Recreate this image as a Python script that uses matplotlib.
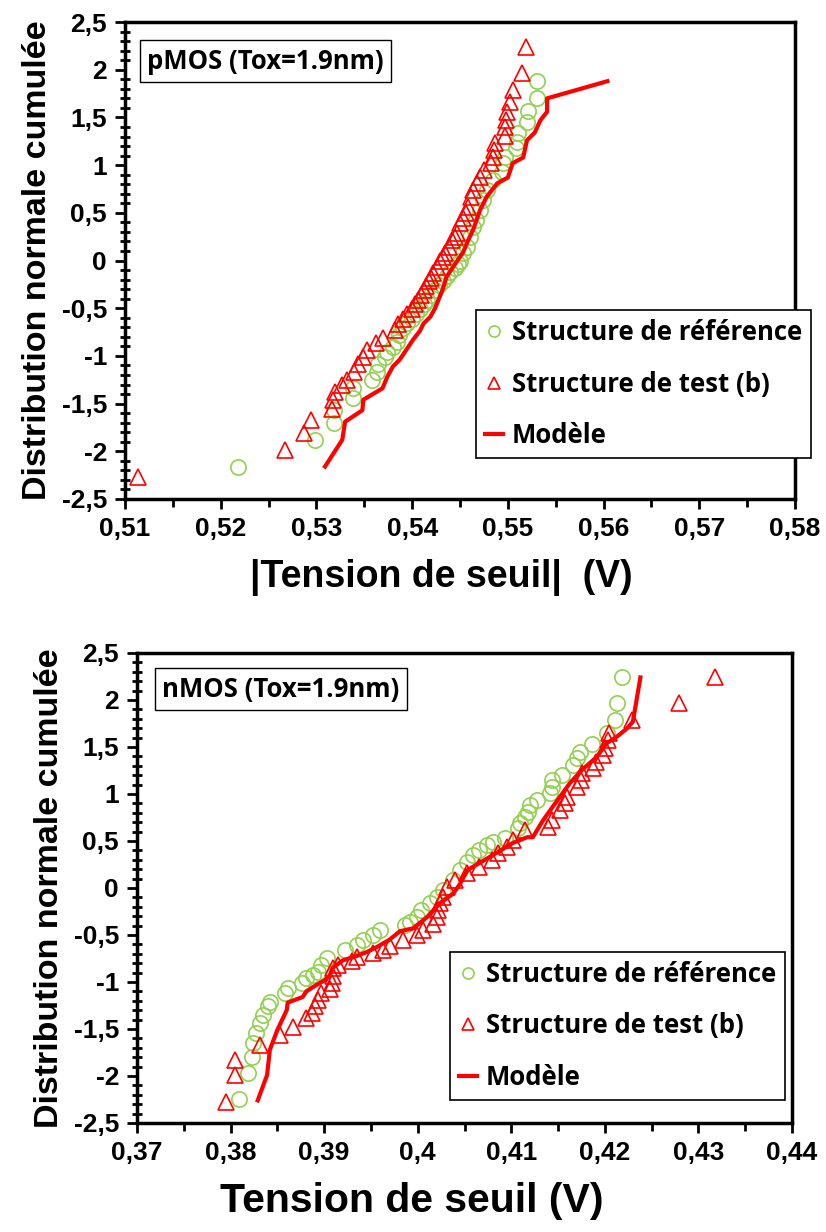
import matplotlib.pyplot as plt
from matplotlib.lines import Line2D
from matplotlib.ticker import MultipleLocator, FuncFormatter

# pMOS (top panel)
p_ref_x = [0.5218, 0.5299, 0.5318, 0.5318, 0.5338, 0.5338, 0.5358, 0.5363, 0.5364, 0.5372,
           0.5374, 0.5380, 0.5384, 0.5386, 0.5390, 0.5395, 0.5400, 0.5404, 0.5408, 0.5412,
           0.5416, 0.5420, 0.5424, 0.5428, 0.5432, 0.5436, 0.5440, 0.5445, 0.5448, 0.5450,
           0.5453, 0.5457, 0.5460, 0.5464, 0.5467, 0.5471, 0.5474, 0.5478, 0.5484, 0.5494,
           0.5495, 0.5497, 0.5508, 0.5510, 0.5511, 0.5520, 0.5521, 0.5530, 0.5530]
p_ref_y = [-2.17, -1.88, -1.70, -1.57, -1.44, -1.34, -1.25, -1.17, -1.09, -1.01,
           -0.96, -0.91, -0.85, -0.78, -0.71, -0.66, -0.61, -0.56, -0.51, -0.46,
           -0.41, -0.36, -0.31, -0.26, -0.21, -0.16, -0.12, -0.08, -0.04, 0.00,
           0.08, 0.14, 0.25, 0.35, 0.42, 0.53, 0.63, 0.74, 0.84, 0.93,
           1.02, 1.08, 1.18, 1.24, 1.34, 1.45, 1.57, 1.70, 1.88]

p_test_x = [0.5114, 0.5267, 0.5287, 0.5294, 0.5316, 0.5317, 0.5319, 0.5327, 0.5332, 0.5339,
            0.5343, 0.5349, 0.5353, 0.5362, 0.5370, 0.5382, 0.5385, 0.5390, 0.5395, 0.5400,
            0.5403, 0.5406, 0.5409, 0.5412, 0.5415, 0.5418, 0.5420, 0.5422, 0.5426, 0.5429,
            0.5432, 0.5434, 0.5438, 0.5442, 0.5445, 0.5447, 0.5450, 0.5453, 0.5456, 0.5458,
            0.5462, 0.5464, 0.5468, 0.5471, 0.5475, 0.5482, 0.5484, 0.5485, 0.5487, 0.5497,
            0.5497, 0.5498, 0.5499, 0.5502, 0.5505, 0.5515, 0.5519]
p_test_y = [-2.27, -1.99, -1.81, -1.67, -1.56, -1.46, -1.38, -1.31, -1.25, -1.17,
            -1.08, -1.01, -0.94, -0.87, -0.81, -0.73, -0.67, -0.61, -0.56, -0.51,
            -0.46, -0.41, -0.36, -0.31, -0.27, -0.22, -0.18, -0.13, -0.07, 0.00,
            0.04, 0.08, 0.14, 0.21, 0.25, 0.29, 0.39, 0.45, 0.50, 0.56,
            0.67, 0.74, 0.81, 0.88, 0.95, 1.02, 1.08, 1.16, 1.23, 1.31,
            1.40, 1.47, 1.56, 1.66, 1.79, 1.97, 2.24]

p_mod_x = [0.5309, 0.5327, 0.5330, 0.5348, 0.5349, 0.5369, 0.5374, 0.5380, 0.5387, 0.5393,
           0.5401, 0.5408, 0.5412, 0.5419, 0.5424, 0.5428, 0.5432, 0.5436, 0.5442, 0.5450,
           0.5453, 0.5458, 0.5464, 0.5471, 0.5478, 0.5489, 0.5500, 0.5505, 0.5516, 0.5520,
           0.5528, 0.5534, 0.5541, 0.5541, 0.5604]
p_mod_y = [-2.16, -1.88, -1.69, -1.57, -1.46, -1.34, -1.22, -1.11, -1.04, -0.95,
           -0.83, -0.74, -0.66, -0.59, -0.50, -0.40, -0.30, -0.17, -0.08, 0.04,
           0.08, 0.20, 0.33, 0.53, 0.67, 0.81, 0.87, 1.02, 1.08, 1.26,
           1.34, 1.47, 1.56, 1.70, 1.88]

# nMOS (bottom panel)
n_ref_x = [0.3809, 0.3819, 0.3823, 0.3824, 0.3827, 0.3831, 0.3835, 0.3840, 0.3842, 0.3858,
           0.3861, 0.3876, 0.3881, 0.3888, 0.3893, 0.3897, 0.3903, 0.3922, 0.3935, 0.3941,
           0.3952, 0.3960, 0.3986, 0.3992, 0.3999, 0.4004, 0.4013, 0.4021, 0.4027, 0.4038,
           0.4045, 0.4053, 0.4059, 0.4066, 0.4074, 0.4080, 0.4093, 0.4107, 0.4109, 0.4115,
           0.4118, 0.4120, 0.4128, 0.4141, 0.4143, 0.4144, 0.4154, 0.4166, 0.4170, 0.4173,
           0.4186, 0.4202, 0.4211, 0.4213, 0.4218]
n_ref_y = [-2.24, -1.97, -1.80, -1.65, -1.54, -1.44, -1.35, -1.26, -1.21, -1.12,
           -1.06, -1.01, -0.96, -0.93, -0.89, -0.82, -0.74, -0.66, -0.61, -0.55,
           -0.50, -0.45, -0.39, -0.36, -0.31, -0.23, -0.16, -0.10, -0.02, 0.09,
           0.19, 0.28, 0.35, 0.40, 0.46, 0.49, 0.53, 0.64, 0.69, 0.76,
           0.81, 0.88, 0.94, 1.01, 1.07, 1.15, 1.20, 1.31, 1.38, 1.45,
           1.53, 1.65, 1.79, 1.97, 2.24]

n_test_x = [0.3795, 0.3805, 0.3805, 0.3831, 0.3853, 0.3867, 0.3881, 0.3887, 0.3890, 0.3893,
            0.3897, 0.3906, 0.3908, 0.3909, 0.3909, 0.3915, 0.3930, 0.3935, 0.3952, 0.3963,
            0.3970, 0.3984, 0.3999, 0.4006, 0.4016, 0.4021, 0.4022, 0.4024, 0.4027, 0.4031,
            0.4040, 0.4053, 0.4066, 0.4079, 0.4086, 0.4095, 0.4102, 0.4115, 0.4139, 0.4144,
            0.4152, 0.4157, 0.4160, 0.4170, 0.4175, 0.4176, 0.4187, 0.4191, 0.4198, 0.4200,
            0.4203, 0.4204, 0.4229, 0.4279, 0.4318]
n_test_y = [-2.28, -1.99, -1.83, -1.67, -1.56, -1.48, -1.38, -1.33, -1.26, -1.19,
            -1.12, -1.08, -1.01, -0.94, -0.85, -0.82, -0.78, -0.73, -0.69, -0.66,
            -0.62, -0.55, -0.50, -0.45, -0.38, -0.31, -0.23, -0.16, -0.10, 0.01,
            0.08, 0.16, 0.22, 0.30, 0.37, 0.44, 0.51, 0.62, 0.65, 0.72,
            0.83, 0.90, 0.97, 1.07, 1.15, 1.22, 1.28, 1.34, 1.41, 1.49,
            1.57, 1.65, 1.79, 1.97, 2.24]

n_mod_x = [0.3829, 0.3839, 0.3842, 0.3850, 0.3860, 0.3861, 0.3877, 0.3881, 0.3892, 0.3901,
           0.3906, 0.3909, 0.3920, 0.3933, 0.3946, 0.3956, 0.3970, 0.3981, 0.3995, 0.4010,
           0.4024, 0.4038, 0.4045, 0.4053, 0.4077, 0.4102, 0.4117, 0.4123, 0.4134, 0.4144,
           0.4155, 0.4163, 0.4176, 0.4191, 0.4202, 0.4213, 0.4224, 0.4230, 0.4238]
n_mod_y = [-2.26, -1.99, -1.72, -1.51, -1.30, -1.22, -1.16, -1.10, -1.03, -0.98,
           -0.93, -0.85, -0.77, -0.73, -0.68, -0.63, -0.55, -0.46, -0.43, -0.31,
           -0.16, -0.06, 0.04, 0.19, 0.33, 0.48, 0.54, 0.54, 0.72, 0.86,
           1.01, 1.12, 1.26, 1.39, 1.54, 1.61, 1.70, 1.77, 2.24]

legend_labels = ['Structure de référence', 'Structure de test (b)', 'Modèle']

GREEN = '#92D050'
RED = '#FF0000'
TICK_FONT = 'Liberation Sans'
BOX_FONT = 'Open Sans'


def comma_fmt(v, pos):
    s = '{:g}'.format(round(v, 4))
    return s.replace('.', ',')


def draw_panel(ax, ref_x, ref_y, test_x, test_y, mod_x, mod_y, xlim, box_text, box_pos,
               xlabel, xlabel_x, xlabel_size, leg_anchor):
    ax.plot(ref_x, ref_y, linestyle='none', marker='o', ms=11, mfc='none', mec=GREEN, mew=1.2)
    ax.plot(test_x, test_y, linestyle='none', marker='^', ms=11, mfc='none', mec=RED, mew=1.2)
    ax.plot(mod_x, mod_y, color=RED, lw=3)
    ax.set_xlim(xlim)
    ax.set_ylim(-2.5, 2.5)
    ax.xaxis.set_major_locator(MultipleLocator(0.01))
    ax.xaxis.set_minor_locator(MultipleLocator(0.005))
    ax.yaxis.set_major_locator(MultipleLocator(0.5))
    ax.yaxis.set_minor_locator(MultipleLocator(0.1))
    ax.xaxis.set_major_formatter(FuncFormatter(comma_fmt))
    ax.yaxis.set_major_formatter(FuncFormatter(comma_fmt))
    ax.tick_params(which='major', direction='out', length=7, width=2, labelsize=19, pad=6)
    ax.tick_params(axis='x', which='minor', direction='out', length=6, width=2)
    ax.tick_params(axis='y', which='minor', direction='inout', length=7, width=2)
    for lab in ax.get_xticklabels() + ax.get_yticklabels():
        lab.set_fontweight('bold')
        lab.set_family(TICK_FONT)
    for sp in ax.spines.values():
        sp.set_linewidth(2.5)
    ax.set_xlabel(xlabel, fontsize=xlabel_size, fontweight='bold', family=TICK_FONT,
                  labelpad=16)
    ax.xaxis.set_label_coords(xlabel_x, -0.125)
    ax.set_ylabel('Distribution normale cumulée', fontsize=24.5, fontweight='bold',
                  family=TICK_FONT, labelpad=6)
    ax.text(box_pos[0], box_pos[1], box_text, transform=ax.transAxes, ha='center', va='center',
            fontsize=18.5, fontweight='bold', family=BOX_FONT,
            bbox=dict(boxstyle='square,pad=0.28', fc='white', ec='black', lw=1))
    handles = [
        Line2D([], [], linestyle='none', marker='o', ms=8, mfc='none', mec=GREEN, mew=1.2),
        Line2D([], [], linestyle='none', marker='^', ms=8, mfc='none', mec=RED, mew=1.2),
        Line2D([], [], color=RED, lw=3),
    ]
    leg = ax.legend(handles, legend_labels, loc='upper left', bbox_to_anchor=leg_anchor,
                    borderaxespad=0, frameon=True, fancybox=False, handlelength=0.7,
                    handletextpad=0.35, labelspacing=0.95, borderpad=0.35,
                    prop={'family': BOX_FONT, 'weight': 'bold', 'size': 18.5})
    leg.get_frame().set_edgecolor('black')
    leg.get_frame().set_linewidth(1.2)
    leg.get_frame().set_alpha(1)


fig = plt.figure(figsize=(8.26, 12.32), dpi=100)
ax1 = fig.add_axes([0.1513, 0.5950, 0.8112, 0.3871])
ax2 = fig.add_axes([0.1659, 0.0885, 0.7929, 0.3815])

draw_panel(ax1, p_ref_x, p_ref_y, p_test_x, p_test_y, p_mod_x, p_mod_y, (0.51, 0.58),
           'pMOS (Tox=1.9nm)', (0.21, 0.918), '|Tension de seuil|  (V)', 0.472, 27,
           (0.524, 0.396))
draw_panel(ax2, n_ref_x, n_ref_y, n_test_x, n_test_y, n_mod_x, n_mod_y, (0.37, 0.44),
           'nMOS (Tox=1.9nm)', (0.22, 0.923), 'Tension de seuil (V)', 0.42, 29.5,
           (0.478, 0.364))

fig.savefig('out.png', dpi=100)
